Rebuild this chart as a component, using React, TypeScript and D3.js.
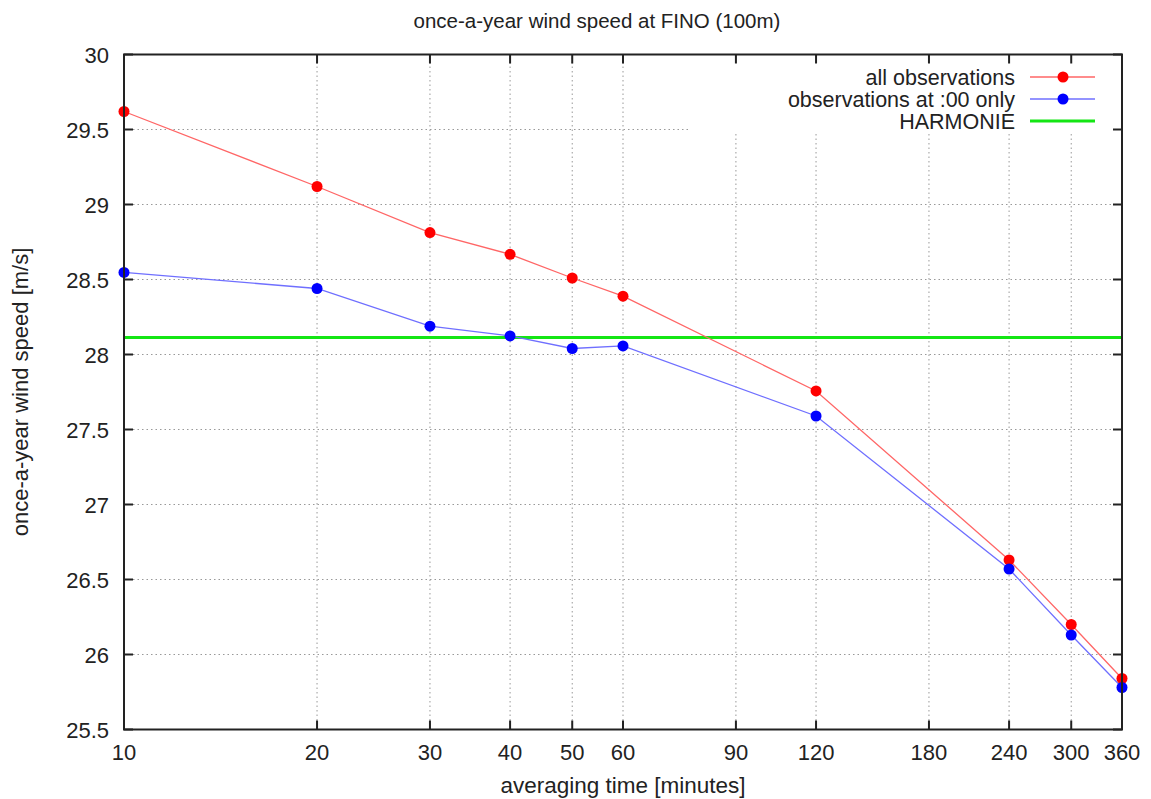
import React from "react";
import * as d3 from "d3";

const minutes = [10, 20, 30, 40, 50, 60, 120, 240, 300, 360];
const allObs = [29.62, 29.12, 28.813, 28.668, 28.51, 28.389, 27.757, 26.63, 26.2, 25.84];
const obsAt00 = [28.547, 28.44, 28.189, 28.124, 28.04, 28.057, 27.59, 26.57, 26.13, 25.78];
const harmonie = 28.113;
const xTicks = [10, 20, 30, 40, 50, 60, 90, 120, 180, 240, 300, 360];
const yTicks = [25.5, 26, 26.5, 27, 27.5, 28, 28.5, 29, 29.5, 30];
const legendLabels = ["all observations", "observations at :00 only", "HARMONIE"];

const W = 1151, H = 799;
const L = 124, R = 1122, T = 54.5, B = 729.5;
const FONT = "'Liberation Sans', Arial, sans-serif";

export default function App() {
  const x = d3.scaleLog().domain([10, 360]).range([L, R]);
  const y = d3.scaleLinear().domain([25.5, 30]).range([B, T]);
  const line = d3.line<number>().x((_, i) => x(minutes[i])).y((d) => y(d));
  const tick = 9;
  const gridColor = "#999";
  const legX = 1015, legL1 = 1030, legL2 = 1095, legP = 1063;
  const legY = [77, 99, 121];

  return (
    <svg width={W} height={H} style={{ position: "absolute", left: 0, top: 0, background: "#fff" }} fontFamily={FONT}>
      <rect x={0} y={0} width={W} height={H} fill="#fff" />
      {/* grid */}
      <g stroke={gridColor} strokeWidth={1} strokeDasharray="1.5,3">
        {yTicks.filter((t) => t > 25.5 && t < 30).map((t) => (
          <line key={"gy" + t} x1={L} x2={R} y1={y(t)} y2={y(t)} />
        ))}
        {xTicks.filter((t) => t > 10 && t < 360).map((t) => (
          <line key={"gx" + t} x1={x(t)} x2={x(t)} y1={B} y2={T} />
        ))}
      </g>
      {/* legend blank area */}
      <rect x={690} y={T + 1} width={R - 690 - 1} height={133 - T} fill="#fff" />
      {/* harmonie */}
      <line x1={L} x2={R} y1={y(harmonie)} y2={y(harmonie)} stroke="#14e614" strokeWidth={3} />
      {/* series */}
      <path d={line(obsAt00) || ""} fill="none" stroke="#6f6fff" strokeWidth={1.3} />
      <path d={line(allObs) || ""} fill="none" stroke="#ff6666" strokeWidth={1.3} />
      {allObs.map((v, i) => (
        <circle key={"r" + i} cx={x(minutes[i])} cy={y(v)} r={5.5} fill="#ff0000" />
      ))}
      {obsAt00.map((v, i) => (
        <circle key={"b" + i} cx={x(minutes[i])} cy={y(v)} r={5.5} fill="#0000ff" />
      ))}
      {/* border & ticks */}
      <g stroke="#222" strokeWidth={2}>
        <rect x={L} y={T} width={R - L} height={B - T} fill="none" />
        {yTicks.map((t) => (
          <g key={"ty" + t}>
            <line x1={L} x2={L + tick} y1={y(t)} y2={y(t)} />
            <line x1={R} x2={R - tick} y1={y(t)} y2={y(t)} />
          </g>
        ))}
        {xTicks.map((t) => (
          <g key={"tx" + t}>
            <line x1={x(t)} x2={x(t)} y1={B} y2={B - tick} />
            <line x1={x(t)} x2={x(t)} y1={T} y2={T + tick} />
          </g>
        ))}
      </g>
      {/* tick labels */}
      <g fontSize={22} fill="#222">
        {yTicks.map((t) => (
          <text key={"ly" + t} x={L - 15} y={y(t) + 8} textAnchor="end">{String(t)}</text>
        ))}
        {xTicks.map((t) => (
          <text key={"lx" + t} x={x(t)} y={760} textAnchor="middle">{String(t)}</text>
        ))}
      </g>
      {/* titles */}
      <text x={597} y={28} textAnchor="middle" fontSize={20.5} fill="#222">once-a-year wind speed at FINO (100m)</text>
      <text x={623} y={793} textAnchor="middle" fontSize={22.5} fill="#222">averaging time [minutes]</text>
      <text transform={`translate(28, ${(T + B) / 2}) rotate(-90)`} textAnchor="middle" fontSize={22} fill="#222">once-a-year wind speed [m/s]</text>
      {/* legend */}
      <g fontSize={21.5} fill="#222">
        {legendLabels.map((lab, i) => (
          <text key={lab} x={legX} y={legY[i] + 8} textAnchor="end">{lab}</text>
        ))}
      </g>
      <line x1={legL1} x2={legL2} y1={legY[0]} y2={legY[0]} stroke="#ff6666" strokeWidth={1.3} />
      <circle cx={legP} cy={legY[0]} r={5.5} fill="#ff0000" />
      <line x1={legL1} x2={legL2} y1={legY[1]} y2={legY[1]} stroke="#6f6fff" strokeWidth={1.3} />
      <circle cx={legP} cy={legY[1]} r={5.5} fill="#0000ff" />
      <line x1={legL1} x2={legL2} y1={legY[2]} y2={legY[2]} stroke="#14e614" strokeWidth={3} />
    </svg>
  );
}
